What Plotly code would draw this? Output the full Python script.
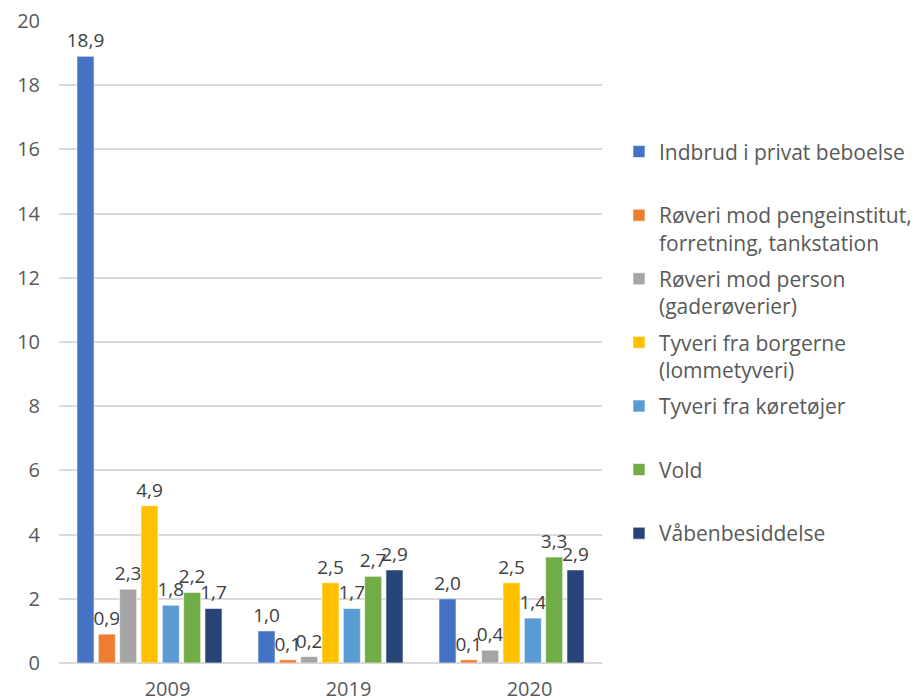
import plotly.graph_objects as go

categories = ["2009", "2019", "2020"]
series_names = [
    "Indbrud i privat beboelse",
    "Røveri mod pengeinstitut,<br>forretning, tankstation",
    "Røveri mod person<br>(gaderøverier)",
    "Tyveri fra borgerne<br>(lommetyveri)",
    "Tyveri fra køretøjer",
    "Vold",
    "Våbenbesiddelse",
]
values = [
    [18.9, 1.0, 2.0],
    [0.9, 0.1, 0.1],
    [2.3, 0.2, 0.4],
    [4.9, 2.5, 2.5],
    [1.8, 1.7, 1.4],
    [2.2, 2.7, 3.3],
    [1.7, 2.9, 2.9],
]
colors = ["#4472C4", "#ED7D31", "#A5A5A5", "#FFC000", "#5B9BD5", "#70AD47", "#264478"]
y_ticks = [0, 2, 4, 6, 8, 10, 12, 14, 16, 18, 20]

FONT = "Open Sans"
fig = go.Figure()
for i, (name, vals, col) in enumerate(zip(series_names, values, colors)):
    label = name if "<br>" in name else name + "<br>&nbsp;"
    fig.add_trace(go.Bar(
        x=categories, y=vals, name=label,
        legendgroup=f"g{i}",
        marker=dict(color=col, line=dict(color="rgba(255,255,255,0.6)", width=1)),
        texttemplate="%{y:.1f}", textposition="outside",
        textfont=dict(size=19, color="#404040", family=FONT),
        constraintext="none", cliponaxis=False,
    ))

fig.update_layout(
    width=915, height=698,
    margin=dict(l=59, r=313, t=21, b=35, autoexpand=False),
    plot_bgcolor="white", paper_bgcolor="white",
    barmode="group", bargap=0.175, bargroupgap=0.2,
    separators=", ",
    font=dict(family=FONT, size=20, color="#595959"),
    showlegend=True,
    legend=dict(
        x=1.0313, y=0.828, xanchor="left", yanchor="top",
        font=dict(size=21, color="#595959", family=FONT),
        valign="top", tracegroupgap=6,
        itemwidth=30,
    ),
    xaxis=dict(
        showgrid=False, showline=False, ticks="", automargin=False,
        ticklabelshift=18, ticklabelstandoff=12, ticklabeloverflow="allow",
        tickfont=dict(size=20, color="#595959"),
    ),
    yaxis=dict(
        range=[0, 20], tickvals=y_ticks, showgrid=True, automargin=False,
        gridcolor="#D9D9D9", gridwidth=1.5,
        zeroline=True, zerolinecolor="#D9D9D9", zerolinewidth=1.5,
        showline=False, ticks="", ticklabelstandoff=18, ticklabeloverflow="allow",
        tickfont=dict(size=20, color="#595959"),
    ),
)
fig.write_html(
    "out.html",
    config={"displayModeBar": False},
    post_script="document.body.style.margin='0';document.documentElement.style.overflow='hidden';",
)
